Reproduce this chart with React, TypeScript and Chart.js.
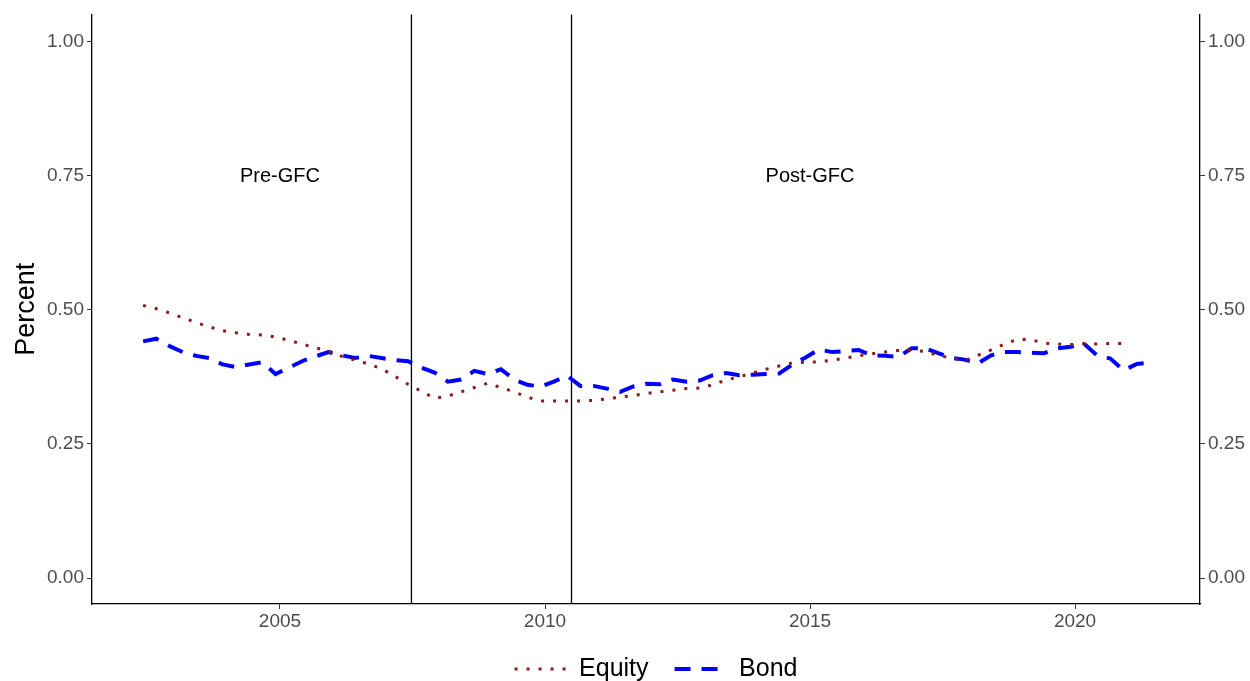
import React, { useEffect, useRef } from "react";
import { Chart, registerables } from "chart.js";

Chart.register(...registerables);

// Quarterly observations (year-month)
const quarters: string[] = [
  "2002-06", "2002-09", "2002-12",
  "2003-03", "2003-06", "2003-09", "2003-12",
  "2004-03", "2004-06", "2004-09", "2004-12",
  "2005-03", "2005-06", "2005-09", "2005-12",
  "2006-03", "2006-06", "2006-09", "2006-12",
  "2007-03", "2007-06", "2007-09", "2007-12",
  "2008-03", "2008-06", "2008-09", "2008-12",
  "2009-03", "2009-06", "2009-09", "2009-12",
  "2010-03", "2010-06", "2010-09", "2010-12",
  "2011-03", "2011-06", "2011-09", "2011-12",
  "2012-03", "2012-06", "2012-09", "2012-12",
  "2013-03", "2013-06", "2013-09", "2013-12",
  "2014-03", "2014-06", "2014-09", "2014-12",
  "2015-03", "2015-06", "2015-09", "2015-12",
  "2016-03", "2016-06", "2016-09", "2016-12",
  "2017-03", "2017-06", "2017-09", "2017-12",
  "2018-03", "2018-06", "2018-09", "2018-12",
  "2019-03", "2019-06", "2019-09", "2019-12",
  "2020-03", "2020-06", "2020-09", "2020-12",
  "2021-03", "2021-06",
];

const equity: number[] = [
  0.508, 0.502, 0.494,
  0.485, 0.476, 0.468, 0.461,
  0.457, 0.454, 0.453, 0.449,
  0.443, 0.436, 0.429, 0.423,
  0.413, 0.406, 0.399, 0.390,
  0.376, 0.361, 0.348, 0.335,
  0.339, 0.347, 0.355, 0.363,
  0.355, 0.347, 0.337, 0.330,
  0.330, 0.330, 0.330, 0.331,
  0.334, 0.337, 0.340, 0.344,
  0.347, 0.350, 0.353, 0.354,
  0.360, 0.369, 0.375, 0.382,
  0.389, 0.395, 0.401, 0.402,
  0.403, 0.406, 0.410, 0.414,
  0.418, 0.421, 0.424, 0.425,
  0.422, 0.415, 0.410, 0.405,
  0.415, 0.425, 0.436, 0.445,
  0.444, 0.438, 0.436, 0.435,
  0.437, 0.436, 0.437, 0.437,
];

const bond: number[] = [
  0.441, 0.446, 0.432,
  0.421, 0.414, 0.410, 0.398,
  0.393, 0.398, 0.402, 0.380,
  0.392, 0.404, 0.413, 0.421,
  0.415, 0.410, 0.414, 0.410,
  0.406, 0.404, 0.392, 0.383,
  0.366, 0.370, 0.386, 0.380,
  0.389, 0.370, 0.360, 0.357,
  0.366, 0.377, 0.358, 0.358,
  0.353, 0.347, 0.357, 0.362,
  0.361, 0.370, 0.366, 0.368,
  0.378, 0.382, 0.378, 0.379,
  0.380, 0.381, 0.398, 0.411,
  0.426, 0.421, 0.423, 0.425,
  0.415, 0.414, 0.412, 0.428,
  0.428, 0.419, 0.410, 0.407,
  0.400, 0.415, 0.421, 0.421,
  0.420, 0.419, 0.428, 0.431,
  0.437, 0.415, 0.409, 0.387,
  0.399, 0.401,
];

const xTicks: number[] = [2005, 2010, 2015, 2020];
const yTicks: number[] = [0, 0.25, 0.5, 0.75, 1];
const periodBreaks: number[] = [2007.48, 2010.5];
const periodLabels: string[] = ["Pre-GFC", "Post-GFC"];
const periodLabelX: number[] = [2005, 2015];
const periodLabelY: number[] = [0.75, 0.75];

const FONT = "'Liberation Sans', Arial, Helvetica, sans-serif";

const toYear = (s: string) => {
  const [y, m] = s.split("-").map(Number);
  return y + (m - 1) / 12;
};

const LEGEND_PAD = 26;
const LEGEND_MAX_H = 40;
const X_AXIS_H = 681 - 604 - LEGEND_MAX_H;

const overlayPlugin = {
  id: "gfcOverlay",
  afterLayout(chart: any) {
    const l = chart.legend;
    if (l) {
      // place legend text centre at y ~ 668 and nudge to match the reference
      const desiredTop = 669 - 12.5 - LEGEND_PAD;
      l.top = desiredTop;
      l.bottom = chart.height;
      l.height = l.bottom - l.top;
      l.left += 10;
      l.right += 10;
    }
  },
  beforeDatasetsDraw(chart: any) {
    const { ctx, chartArea, scales } = chart;
    ctx.save();
    ctx.strokeStyle = "#000000";
    ctx.lineWidth = 1.3;
    periodBreaks.forEach((b) => {
      const x = scales.x.getPixelForValue(b);
      ctx.beginPath();
      ctx.moveTo(x, chartArea.top);
      ctx.lineTo(x, chartArea.bottom);
      ctx.stroke();
    });
    ctx.fillStyle = "#000000";
    ctx.font = `20px ${FONT}`;
    ctx.textAlign = "center";
    ctx.textBaseline = "middle";
    periodLabels.forEach((t, i) => {
      ctx.fillText(
        t,
        scales.x.getPixelForValue(periodLabelX[i]),
        scales.y.getPixelForValue(periodLabelY[i]) + 1
      );
    });
    ctx.restore();
  },
};

export default function App() {
  const canvasRef = useRef<HTMLCanvasElement | null>(null);

  useEffect(() => {
    document.body.style.margin = "0";
    const canvas = canvasRef.current;
    if (!canvas) return;

    const yTickFmt = (v: any) => Number(v).toFixed(2);
    const defaultLabels = (Chart as any).defaults.plugins.legend.labels.generateLabels;

    const chart = new Chart(canvas, {
      type: "line",
      data: {
        datasets: [
          {
            label: "Equity",
            data: equity.map((v, i) => ({ x: toYear(quarters[i]), y: v })),
            borderColor: "#8B1A1A",
            backgroundColor: "#8B1A1A",
            borderWidth: 3,
            borderDash: [3, 9],
            pointRadius: 0,
            tension: 0,
            fill: false,
          },
          {
            label: "Bond",
            data: bond.map((v, i) => ({ x: toYear(quarters[i]), y: v })),
            borderColor: "#0000FF",
            backgroundColor: "#0000FF",
            borderWidth: 4,
            borderDash: [16, 11],
            pointRadius: 0,
            tension: 0,
            fill: false,
          },
        ],
      },
      options: {
        animation: false,
        responsive: false,
        maintainAspectRatio: false,
        layout: { padding: { top: 14, left: 0, right: 0, bottom: 0 } },
        plugins: {
          tooltip: { enabled: false },
          legend: {
            display: true,
            position: "bottom",
            fullSize: false,
            maxHeight: LEGEND_MAX_H,
            labels: {
              usePointStyle: true,
              pointStyle: "line",
              pointStyleWidth: 52,
              padding: LEGEND_PAD,
              color: "#000000",
              font: { family: FONT, size: 25 },
              generateLabels: (c: any) => {
                const items = defaultLabels(c);
                return items.map((it: any) => {
                  const ds = c.data.datasets[it.datasetIndex];
                  return {
                    ...it,
                    pointStyle: "line",
                    lineDash: ds.borderDash,
                    lineWidth: ds.borderWidth,
                    strokeStyle: ds.borderColor,
                    fillStyle: ds.borderColor,
                    lineCap: "butt",
                  };
                });
              },
            },
          },
        },
        scales: {
          x: {
            type: "linear",
            min: 2001.453,
            max: 2022.358,
            afterBuildTicks: (s: any) => {
              s.ticks = xTicks.map((v) => ({ value: v }));
            },
            afterFit: (s: any) => {
              s.height = X_AXIS_H;
            },
            ticks: {
              autoSkip: false,
              maxRotation: 0,
              padding: 1,
              color: "#4D4D4D",
              font: { family: FONT, size: 19 },
              callback: (v: any) => String(v),
            },
            grid: {
              drawOnChartArea: false,
              drawTicks: true,
              tickLength: 5,
              color: "#333333",
            },
            border: { display: true, color: "#000000", width: 1.3 },
          },
          y: {
            type: "linear",
            position: "left",
            min: -0.0484,
            max: 1.0503,
            afterBuildTicks: (s: any) => {
              s.ticks = yTicks.map((v) => ({ value: v }));
            },
            afterFit: (s: any) => {
              s.width = 92;
            },
            ticks: {
              padding: 3,
              color: "#4D4D4D",
              font: { family: FONT, size: 19 },
              callback: yTickFmt,
            },
            grid: {
              drawOnChartArea: false,
              drawTicks: true,
              tickLength: 5,
              color: "#333333",
            },
            border: { display: true, color: "#000000", width: 1.3 },
            title: {
              display: true,
              text: "Percent",
              color: "#000000",
              font: { family: FONT, size: 27 },
              padding: { top: 10, bottom: 0 },
            },
          },
          y2: {
            type: "linear",
            position: "right",
            min: -0.0484,
            max: 1.0503,
            afterBuildTicks: (s: any) => {
              s.ticks = yTicks.map((v) => ({ value: v }));
            },
            afterFit: (s: any) => {
              s.width = 50;
            },
            ticks: {
              padding: 3,
              color: "#4D4D4D",
              font: { family: FONT, size: 19 },
              callback: yTickFmt,
            },
            grid: {
              drawOnChartArea: false,
              drawTicks: true,
              tickLength: 5,
              color: "#333333",
            },
            border: { display: true, color: "#000000", width: 1.3 },
          },
        },
      },
      plugins: [overlayPlugin],
    } as any);

    return () => {
      chart.destroy();
    };
  }, []);

  return (
    <div style={{ position: "absolute", left: 0, top: 0, width: 1250, height: 681, background: "#ffffff" }}>
      <canvas ref={canvasRef} width={1250} height={681} style={{ display: "block" }} />
    </div>
  );
}
